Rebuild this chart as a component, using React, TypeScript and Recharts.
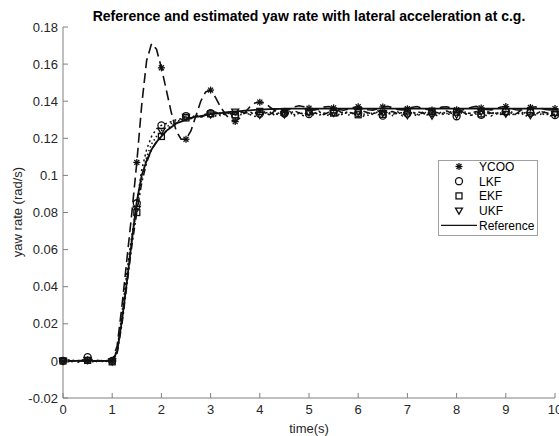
import { LineChart, Line, XAxis, YAxis } from "recharts";

// time grid, 0.1 s steps from 0 to 10 s
const time = Array.from({ length: 101 }, (_, i) => Math.round(i) / 10);

const reference = [
  0, 0, 0, 0, 0, 0, 0, 0, 0, 0,
  0, 0.005, 0.022, 0.043, 0.065, 0.086, 0.1, 0.108, 0.114, 0.118,
  0.121, 0.124, 0.126, 0.128, 0.129, 0.13, 0.131, 0.1315, 0.132, 0.1325,
  0.133, 0.1333, 0.1336, 0.1339, 0.1342, 0.1345, 0.1347, 0.1349, 0.1351, 0.1353,
  0.1355, 0.1356, 0.1357, 0.1358, 0.1359, 0.136, 0.136, 0.136, 0.136, 0.136,
  0.136, 0.136, 0.136, 0.136, 0.136, 0.136, 0.136, 0.136, 0.136, 0.136,
  0.136, 0.136, 0.136, 0.136, 0.136, 0.136, 0.136, 0.136, 0.136, 0.136,
  0.136, 0.136, 0.136, 0.136, 0.136, 0.136, 0.136, 0.136, 0.136, 0.136,
  0.136, 0.136, 0.136, 0.136, 0.136, 0.136, 0.136, 0.136, 0.136, 0.136,
  0.136, 0.136, 0.136, 0.136, 0.136, 0.136, 0.136, 0.136, 0.136, 0.136,
  0.136,
];

const ycoo = [
  0, 0.0003, -0.0004, 0.0002, 0, 0.0004, -0.0003, 0.0002, 0, -0.0002,
  0, 0.008, 0.03, 0.055, 0.08, 0.107, 0.138, 0.162, 0.171, 0.168,
  0.158, 0.146, 0.134, 0.124, 0.1195, 0.1195, 0.124, 0.132, 0.14, 0.145,
  0.146, 0.142, 0.137, 0.133, 0.13, 0.129, 0.131, 0.134, 0.137, 0.139,
  0.1395, 0.139, 0.137, 0.135, 0.134, 0.1345, 0.1355, 0.137, 0.1375, 0.137,
  0.1362, 0.1352, 0.1358, 0.1368, 0.1371, 0.1364, 0.1355, 0.1351, 0.1357, 0.1366,
  0.137, 0.1363, 0.1354, 0.1352, 0.136, 0.1369, 0.1372, 0.1365, 0.1356, 0.1353,
  0.1359, 0.1367, 0.1371, 0.1362, 0.1355, 0.1352, 0.1361, 0.1368, 0.137, 0.1363,
  0.1354, 0.1351, 0.1358, 0.1367, 0.1372, 0.1364, 0.1356, 0.1353, 0.136, 0.1369,
  0.1371, 0.1362, 0.1354, 0.1352, 0.1359, 0.1366, 0.137, 0.1363, 0.1355, 0.1353,
  0.136,
];

const lkf = [
  0, 0.0005, 0.0002, -0.0008, 0.0005, 0.002, 0.0006, -0.0005, 0.0003, -0.0004,
  0, 0.006, 0.026, 0.048, 0.068, 0.085, 0.103, 0.114, 0.121, 0.125,
  0.127, 0.128, 0.129, 0.13, 0.1305, 0.132, 0.131, 0.1325, 0.131, 0.133,
  0.1335, 0.132, 0.1338, 0.1325, 0.134, 0.1322, 0.1336, 0.1345, 0.1328, 0.1318,
  0.1332, 0.1342, 0.1325, 0.1339, 0.1321, 0.1334, 0.1346, 0.1327, 0.1338, 0.1319,
  0.1331, 0.1344, 0.1323, 0.1337, 0.1328, 0.1341, 0.1319, 0.1333, 0.1345, 0.1326,
  0.1336, 0.1318, 0.1339, 0.1329, 0.1343, 0.1322, 0.1335, 0.1327, 0.1344, 0.1321,
  0.1334, 0.1338, 0.1317, 0.1341, 0.1326, 0.1337, 0.1323, 0.1346, 0.1329, 0.1333,
  0.1319, 0.1342, 0.1331, 0.1324, 0.1339, 0.1327, 0.1345, 0.132, 0.1336, 0.1328,
  0.1343, 0.1322, 0.1335, 0.134, 0.1318, 0.1337, 0.1326, 0.1344, 0.1323, 0.1334,
  0.1325,
];

const ekf = [
  0, -0.0005, 0.0003, -0.0002, 0.0004, 0.0003, -0.0004, 0.0002, -0.0003, 0.0002,
  -0.0005, 0.004, 0.02, 0.041, 0.062, 0.08, 0.096, 0.107, 0.114, 0.118,
  0.121, 0.124, 0.127, 0.128, 0.13, 0.131, 0.1305, 0.132, 0.1315, 0.1325,
  0.1332, 0.1341, 0.1329, 0.1344, 0.1336, 0.1327, 0.1347, 0.1335, 0.1342, 0.1331,
  0.1345, 0.1338, 0.1328, 0.1346, 0.1333, 0.1341, 0.133, 0.1348, 0.1337, 0.1329,
  0.1343, 0.1334, 0.1347, 0.1328, 0.134, 0.1336, 0.1349, 0.1331, 0.1342, 0.1335,
  0.1327, 0.1346, 0.1338, 0.1332, 0.1348, 0.1329, 0.1341, 0.1344, 0.1333, 0.1339,
  0.1347, 0.133, 0.1343, 0.1336, 0.1328, 0.1345, 0.1339, 0.1331, 0.1348, 0.1334,
  0.1341, 0.1346, 0.1329, 0.1338, 0.1344, 0.1332, 0.1347, 0.1335, 0.134, 0.1328,
  0.1345, 0.1337, 0.1331, 0.1349, 0.1334, 0.1342, 0.1328, 0.1344, 0.1339, 0.1333,
  0.134,
];

const ukf = [
  0, 0.0002, -0.0004, 0.0003, -0.0002, 0.0004, 0.0002, -0.0003, 0.0001, 0.0002,
  -0.0003, 0.005, 0.024, 0.045, 0.066, 0.082, 0.099, 0.11, 0.117, 0.121,
  0.124, 0.126, 0.128, 0.129, 0.13, 0.1315, 0.131, 0.1325, 0.132, 0.133,
  0.1328, 0.1336, 0.1322, 0.1339, 0.1331, 0.1344, 0.1325, 0.1337, 0.1329, 0.1341,
  0.1326, 0.1335, 0.1343, 0.1324, 0.1338, 0.1329, 0.1342, 0.1321, 0.1336, 0.1333,
  0.1339, 0.1325, 0.1341, 0.1332, 0.1323, 0.1337, 0.1328, 0.1344, 0.1326, 0.1335,
  0.1342, 0.1331, 0.1324, 0.134, 0.1327, 0.1336, 0.1345, 0.1322, 0.1338, 0.133,
  0.1324, 0.1343, 0.1329, 0.1335, 0.1341, 0.1322, 0.1337, 0.1328, 0.1334, 0.1345,
  0.1327, 0.1336, 0.1343, 0.1325, 0.1331, 0.1344, 0.1323, 0.1339, 0.1329, 0.1337,
  0.1332, 0.1345, 0.1326, 0.1338, 0.1341, 0.1324, 0.1335, 0.1329, 0.1343, 0.1321,
  0.1331,
];

const xTicks = [0, 1, 2, 3, 4, 5, 6, 7, 8, 9, 10];
const yTicks = [-0.02, 0, 0.02, 0.04, 0.06, 0.08, 0.1, 0.12, 0.14, 0.16, 0.18];

const data = time.map((t, i) => ({
  t,
  reference: reference[i],
  ycoo: ycoo[i],
  lkf: lkf[i],
  ekf: ekf[i],
  ukf: ukf[i],
}));

const FONT = "'Liberation Sans', Arial, Helvetica, sans-serif";
const INK = "#111";

type MarkerKind = "star" | "circle" | "square" | "tri";

function Marker({ kind, cx, cy }: { kind: MarkerKind; cx: number; cy: number }) {
  const s = 3.5;
  const common = { stroke: INK, strokeWidth: 1.3, fill: "none" };
  if (kind === "star") {
    const d = s * 0.71;
    return (
      <g {...common}>
        <line x1={cx - s} y1={cy} x2={cx + s} y2={cy} />
        <line x1={cx} y1={cy - s} x2={cx} y2={cy + s} />
        <line x1={cx - d} y1={cy - d} x2={cx + d} y2={cy + d} />
        <line x1={cx - d} y1={cy + d} x2={cx + d} y2={cy - d} />
      </g>
    );
  }
  if (kind === "circle") return <circle cx={cx} cy={cy} r={s} {...common} />;
  if (kind === "square") return <rect x={cx - 3} y={cy - 3} width={6} height={6} {...common} />;
  return (
    <polygon
      points={`${cx - s},${cy - 2.5} ${cx + s},${cy - 2.5} ${cx},${cy + 3.5}`}
      {...common}
    />
  );
}

// markers every 0.5 s
const markerDot = (kind: MarkerKind) => (props: any) => {
  const { cx, cy, index } = props;
  if (index % 5 !== 0 || cx == null || cy == null) return <g key={`e-${index}`} />;
  return (
    <g key={`m-${index}`}>
      <Marker kind={kind} cx={cx} cy={cy} />
    </g>
  );
};

const fmtY = (v: number) => String(parseFloat(v.toFixed(2)));

const legendItems: { label: string; kind: MarkerKind | "line" }[] = [
  { label: "YCOO", kind: "star" },
  { label: "LKF", kind: "circle" },
  { label: "EKF", kind: "square" },
  { label: "UKF", kind: "tri" },
  { label: "Reference", kind: "line" },
];

export default function App() {
  return (
    <div style={{ position: "absolute", left: 0, top: 0, width: 559, height: 436, background: "#fff", fontFamily: FONT }}>
      <LineChart width={559} height={436} data={data} margin={{ top: 27, right: 4, bottom: 8, left: 13 }}>
        <XAxis
          dataKey="t"
          type="number"
          domain={[0, 10]}
          ticks={xTicks}
          tickSize={-5}
          tickMargin={12}
          height={30}
          stroke="#808080"
          tick={{ fill: "#262626", fontSize: 13, fontFamily: FONT }}
          interval={0}
        />
        <YAxis
          type="number"
          domain={[-0.02, 0.18]}
          ticks={yTicks}
          tickSize={-5}
          tickMargin={10}
          width={50}
          stroke="#808080"
          tickFormatter={fmtY}
          tick={{ fill: "#262626", fontSize: 13, fontFamily: FONT }}
          interval={0}
        />
        <Line
          dataKey="reference"
          stroke={INK}
          strokeWidth={1.8}
          dot={false}
          type="linear"
          isAnimationActive={false}
        />
        <Line
          dataKey="ukf"
          stroke={INK}
          strokeWidth={1.5}
          strokeDasharray="1.5 2.5"
          dot={markerDot("tri")}
          type="linear"
          isAnimationActive={false}
        />
        <Line
          dataKey="ekf"
          stroke={INK}
          strokeWidth={1.5}
          strokeDasharray="7 3 2 3"
          dot={markerDot("square")}
          type="linear"
          isAnimationActive={false}
        />
        <Line
          dataKey="lkf"
          stroke={INK}
          strokeWidth={1.5}
          strokeDasharray="2 3"
          dot={markerDot("circle")}
          type="linear"
          isAnimationActive={false}
        />
        <Line
          dataKey="ycoo"
          stroke={INK}
          strokeWidth={1.6}
          strokeDasharray="10 5"
          dot={markerDot("star")}
          type="linear"
          isAnimationActive={false}
        />
      </LineChart>

      <div
        style={{
          position: "absolute",
          left: 0,
          width: 618,
          top: 8,
          textAlign: "center",
          fontSize: 14,
          fontWeight: "bold",
          color: "#000",
          whiteSpace: "nowrap",
        }}
      >
        Reference and estimated yaw rate with lateral acceleration at c.g.
      </div>

      <div
        style={{
          position: "absolute",
          left: 259,
          width: 100,
          top: 421,
          textAlign: "center",
          fontSize: 13,
          color: "#262626",
        }}
      >
        time(s)
      </div>

      <div
        style={{
          position: "absolute",
          left: 18 - 70,
          top: 212 - 8,
          width: 140,
          height: 16,
          lineHeight: "16px",
          textAlign: "center",
          fontSize: 13,
          color: "#262626",
          transform: "rotate(-90deg)",
          whiteSpace: "nowrap",
        }}
      >
        yaw rate (rad/s)
      </div>

      <svg
        style={{ position: "absolute", left: 438, top: 160 }}
        width={100}
        height={76}
      >
        <rect x={0.5} y={0.5} width={99} height={75} fill="#fff" stroke="#a0a0a0" strokeWidth={1} />
        {legendItems.map((it, i) => {
          const y = 6.5 + i * 14.7;
          return (
            <g key={it.label}>
              {it.kind === "line" ? (
                <line x1={3} y1={y} x2={39} y2={y} stroke={INK} strokeWidth={1.2} />
              ) : (
                <Marker kind={it.kind} cx={21} cy={y} />
              )}
              <text x={41} y={y + 4.3} fontSize={12} fontFamily={FONT} fill="#000">
                {it.label}
              </text>
            </g>
          );
        })}
      </svg>
    </div>
  );
}
